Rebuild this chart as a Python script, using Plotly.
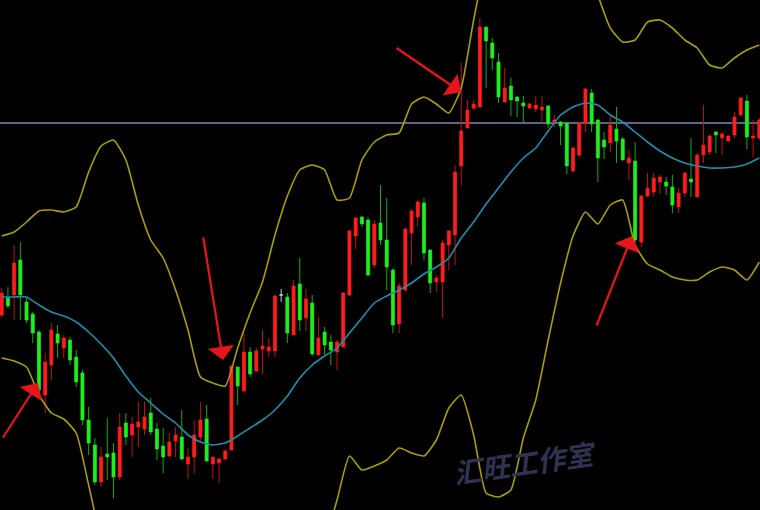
import plotly.graph_objects as go

# ---------------- data (price points) ----------------
bars = list(range(123))

opens = [195,212,215,250,208,196,178,115,145,176,
         162,170,153,137,90,65,28,56,57,33,
         87,75,83,81,97,81,64,54,69,73,
         46,53,73,91,46,47,51,60,143,119,
         158,139,161,159,159,215,213,175,226,192,
         207,155,178,168,158,163,215,274,293,290,
         245,287,270,240,186,220,277,293,307,260,
         228,228,265,275,344,382,402,403,483,467,
         448,408,424,413,407,402,401,400,404,387,
         388,387,339,355,387,417,390,370,367,381,
         371,347,349,268,314,318,328,328,323,303,
         317,331,313,355,358,378,372,369,375,395,
         409,372,372]

highs = [222,223,265,268,212,198,180,157,187,185,
         175,173,160,140,103,72,63,92,67,97,
         97,93,108,108,112,87,82,77,83,100,
         62,90,108,105,53,52,61,145,143,177,
         163,162,180,172,215,221,217,230,252,221,
         215,193,183,175,170,218,280,293,294,293,
         290,325,312,242,227,283,301,310,312,260,
         235,270,280,345,447,410,410,492,483,472,
         457,442,432,414,414,407,414,414,405,395,
         389,387,364,388,422,421,391,378,395,403,
         373,360,368,315,337,337,335,333,335,322,
         338,372,357,405,375,379,378,375,398,413,
         415,390,392]

lows = [193,202,190,190,187,167,113,97,130,152,
        152,145,123,85,55,25,23,30,12,30,
        65,53,63,75,75,50,37,53,53,50,
        31,37,68,48,31,27,50,60,105,118,
        133,138,136,153,153,208,167,175,179,179,
        154,155,155,145,140,163,214,261,283,234,
        242,265,220,177,177,218,245,283,250,217,
        218,192,240,245,325,382,400,403,422,440,
        407,407,394,393,387,401,398,387,382,383,
        365,336,338,353,378,378,328,351,358,347,
        350,330,268,263,313,313,316,315,297,297,
        313,313,313,347,355,357,355,368,372,394,
        361,353,370]

closes = [217,204,247,215,190,177,120,148,180,167,
          172,150,128,90,67,28,53,53,33,83,
          73,86,88,93,78,61,53,68,75,51,
          53,75,90,49,53,51,59,144,124,158,
          136,159,164,163,214,215,177,224,190,211,
          156,172,165,160,168,217,279,292,286,235,
          286,270,243,185,224,281,299,308,257,227,
          232,267,279,338,379,400,406,483,469,452,
          413,422,410,409,404,406,405,403,386,390,
          384,344,362,387,421,386,352,363,385,369,
          350,352,270,314,322,332,333,324,305,317,
          337,328,355,365,374,375,376,374,393,412,
          373,374,390]

doji_bar = 45

# Bollinger bands, one reading every second bar
band_bars = list(range(0, 123, 2))
band_mid = [213,213,213,205,198,194,188,178,166,152,
            134,118,107,96,87,75,68,65,67,74,
            82,90,100,114,132,145,154,162,177,192,
            207,214,220,227,236,243,252,272,288,306,
            322,338,352,362,379,395,403,407,405,395,
            388,378,368,359,352,347,344,342,342,343,
            346,352]
band_up = [274,278,288,299,300,298,303,338,364,370,
           350,305,270,252,220,180,133,127,124,162,
           197,228,275,314,340,345,340,310,312,350,
           368,375,377,406,413,406,397,422,490,550,
           590,610,620,625,620,610,590,555,515,482,
           468,470,488,490,482,470,462,445,442,452,
           460,465]
band_low = [152,149,143,115,97,91,77,25,-30,-65,
            -80,-70,-56,-60,-46,-30,-5,-4,-2,-14,
            -33,-48,-75,-86,-76,-55,-32,10,54,40,
            44,50,62,57,54,70,102,115,75,17,
            13,20,72,110,170,227,274,298,286,305,
            310,265,246,240,233,230,230,238,243,240,
            230,248]

price_line = 387

# red arrows: tip (bar, price) and tail offset in screen pixels
arrow_tips = [(5.85, 127), (35.64, 150), (73.96, 418), (101.5, 274)]
arrow_tails = [(-36, 56), (-20, -124), (-66, -45), (-36, 91)]

watermark = "汇旺工作室"

# ---------------- figure ----------------
main_idx = [i for i in bars if i != doji_bar]
sel = lambda arr: [arr[i] for i in main_idx]

fig = go.Figure()
# wicks (slightly darker, as in the terminal rendering)
fig.add_trace(go.Candlestick(
    x=sel(bars), open=sel(opens), high=sel(highs), low=sel(lows), close=sel(closes),
    increasing=dict(line=dict(color="#b81616", width=1), fillcolor="#ff1c1c"),
    decreasing=dict(line=dict(color="#18a818", width=1), fillcolor="#1cf01c"),
    whiskerwidth=0, hoverinfo="skip",
))
# bright bodies on top
fig.add_trace(go.Candlestick(
    x=sel(bars), open=sel(opens), high=sel(highs), low=sel(lows), close=sel(closes),
    increasing=dict(line=dict(color="#ff1c1c", width=0), fillcolor="#ff1c1c"),
    decreasing=dict(line=dict(color="#1cf01c", width=0), fillcolor="#1cf01c"),
    whiskerwidth=0, hoverinfo="skip",
))
fig.add_trace(go.Candlestick(
    x=[bars[doji_bar]], open=[opens[doji_bar]], high=[highs[doji_bar]],
    low=[lows[doji_bar]], close=[closes[doji_bar]],
    increasing=dict(line=dict(color="#c8c8f0", width=1), fillcolor="#c8c8f0"),
    decreasing=dict(line=dict(color="#c8c8f0", width=1), fillcolor="#c8c8f0"),
    whiskerwidth=0, hoverinfo="skip",
))

band_style = dict(shape="spline", smoothing=0.5)
fig.add_trace(go.Scatter(x=band_bars, y=band_up, mode="lines",
                         line=dict(color="#aa9e00", width=1.6, **band_style), hoverinfo="skip"))
fig.add_trace(go.Scatter(x=band_bars, y=band_low, mode="lines",
                         line=dict(color="#aa9e00", width=1.6, **band_style), hoverinfo="skip"))
fig.add_trace(go.Scatter(x=band_bars, y=band_mid, mode="lines",
                         line=dict(color="#1c8fae", width=1.6, **band_style), hoverinfo="skip"))

fig.add_shape(type="line", xref="paper", x0=0, x1=1, yref="y", y0=price_line, y1=price_line,
              line=dict(color="#7d88b8", width=1.5), layer="below")

for (tx, ty), (ax, ay) in zip(arrow_tips, arrow_tails):
    fig.add_annotation(x=tx, y=ty, xref="x", yref="y", ax=ax, ay=ay,
                       axref="pixel", ayref="pixel", text="", showarrow=True,
                       arrowhead=1, arrowsize=2.0, arrowwidth=2.2,
                       arrowcolor="#e8141b", standoff=0)

fig.add_annotation(x=0.691, y=0.094, xref="paper", yref="paper", text=watermark,
                   xanchor="center", yanchor="middle",
                   showarrow=False, textangle=-8,
                   font=dict(family="Noto Sans CJK SC", size=28, color="#30334f",
                             weight="bold", style="italic"))

fig.update_layout(
    width=760, height=510,
    margin=dict(l=0, r=0, t=0, b=0),
    paper_bgcolor="#000000", plot_bgcolor="#000000",
    showlegend=False,
    boxgap=0.3,
    xaxis=dict(range=[-0.274, 122.11], visible=False, rangeslider=dict(visible=False),
               fixedrange=True),
    yaxis=dict(range=[0, 510], visible=False, fixedrange=True),
)

fig.write_html(
    "out.html",
    config={"displayModeBar": False},
    post_script="document.body.style.margin='0';document.body.style.background='#000';"
                "document.body.style.overflow='hidden';",
)
